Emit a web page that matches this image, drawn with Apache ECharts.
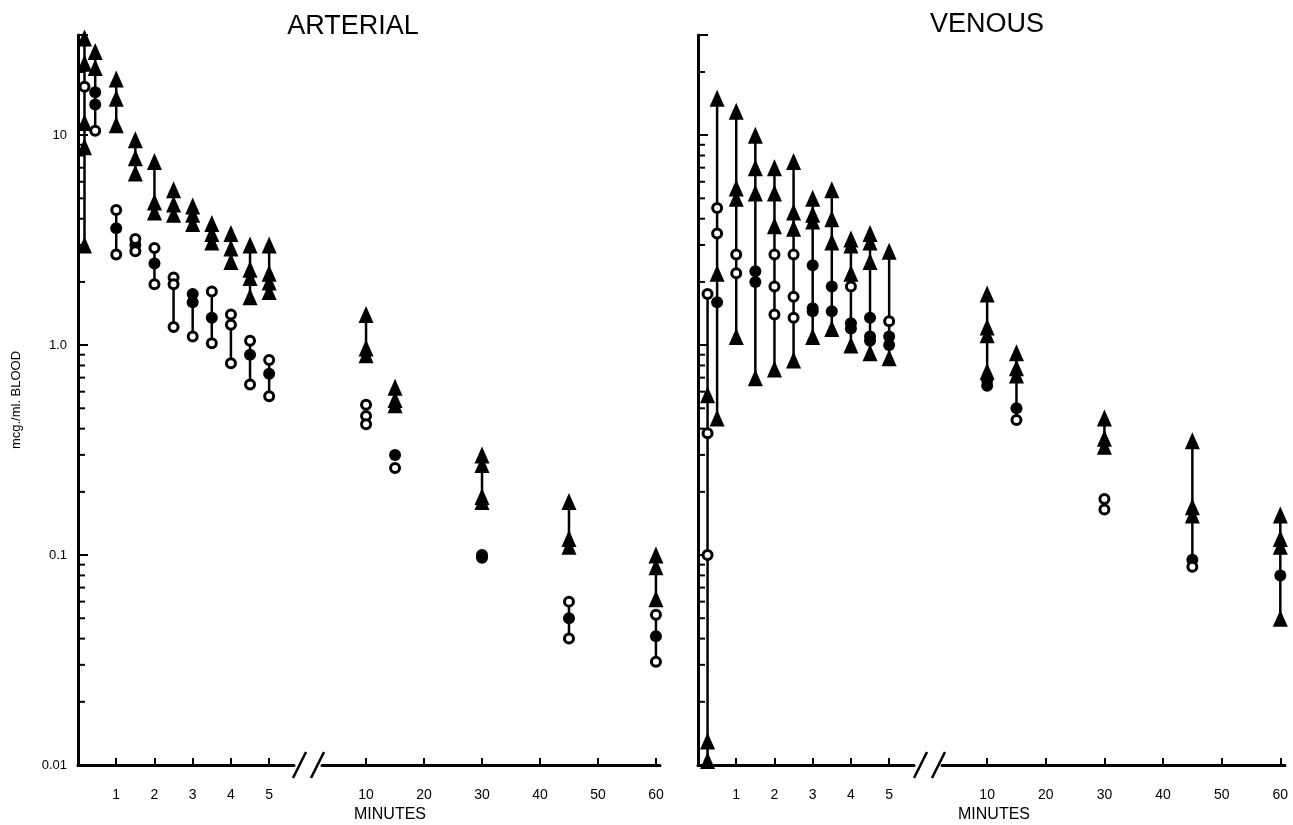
<!DOCTYPE html>
<html>
<head>
<meta charset="utf-8">
<title>Arterial and venous blood levels</title>
<script src="https://cdn.jsdelivr.net/npm/echarts@6/dist/echarts.min.js"></script>
<style>
    html, body { margin: 0; padding: 0; background: #fff; }
    #blood_levels { width: 1293px; height: 825px; }
</style>
</head>
<body>
<div id="blood_levels"></div>
<script>

// Tick values
var yMinorTicks = [0.02, 0.03, 0.04, 0.05, 0.06, 0.07, 0.08, 0.09,
    0.2, 0.3, 0.4, 0.5, 0.6, 0.7, 0.8, 0.9, 2, 3, 4, 5, 6, 7, 8, 9, 20, 30];
var earlyMinuteTicks = [1, 2, 3, 4, 5];
var lateMinuteTicks = [10, 20, 30, 40, 50, 60];

// ARTERIAL - [minutes, mcg/ml]
var arterialTriangles = [
    [0.17, 29], [0.17, 22], [0.17, 11.5], [0.17, 8.8], [0.17, 3.0],
    [0.45, 25], [0.45, 21],
    [1, 18.5], [1, 15], [1, 11.2],
    [1.5, 9.5], [1.5, 7.8], [1.5, 6.6],
    [2, 7.5], [2, 4.8], [2, 4.3],
    [2.5, 5.5], [2.5, 4.7], [2.5, 4.2],
    [3, 4.6], [3, 4.2], [3, 3.8],
    [3.5, 3.8], [3.5, 3.4], [3.5, 3.1],
    [4, 3.4], [4, 2.9], [4, 2.5],
    [4.5, 3.0], [4.5, 2.3], [4.5, 2.1], [4.5, 1.7],
    [5, 3.0], [5, 2.2], [5, 2.0], [5, 1.8],
    [10, 1.4], [10, 0.97], [10, 0.9],
    [15, 0.63], [15, 0.55], [15, 0.52],
    [30, 0.3], [30, 0.27], [30, 0.19], [30, 0.18],
    [45, 0.18], [45, 0.12], [45, 0.11],
    [60, 0.1], [60, 0.088], [60, 0.062]
];
var arterialOpen = [
    [0.17, 17], [0.45, 10.5],
    [1, 4.4], [1, 2.7],
    [1.5, 3.2], [1.5, 2.8],
    [2, 2.9], [2, 1.95],
    [2.5, 2.1], [2.5, 1.95], [2.5, 1.22],
    [3, 1.1],
    [3.5, 1.8], [3.5, 1.02],
    [4, 1.4], [4, 1.25], [4, 0.82],
    [4.5, 1.05], [4.5, 0.65],
    [5, 0.85], [5, 0.57],
    [10, 0.52], [10, 0.46], [10, 0.42],
    [15, 0.26],
    [45, 0.06], [45, 0.04],
    [60, 0.052], [60, 0.031]
];
var arterialFilled = [
    [0.45, 16], [0.45, 14],
    [1, 3.6], [1.5, 3.0], [2, 2.45],
    [3, 1.75], [3, 1.6], [3.5, 1.35],
    [4.5, 0.9], [5, 0.73],
    [15, 0.3], [30, 0.1], [30, 0.097],
    [45, 0.05], [60, 0.041]
];
// [minutes, low, high]
var arterialRanges = [
    [0.17, 3.0, 29], [0.45, 10.5, 25],
    [1, 11.2, 18.5], [1, 2.7, 4.4],
    [1.5, 6.6, 9.5], [1.5, 2.8, 3.2],
    [2, 4.3, 7.5], [2, 1.95, 2.9],
    [2.5, 4.2, 5.5], [2.5, 1.22, 2.1],
    [3, 3.8, 4.6], [3, 1.1, 1.75],
    [3.5, 3.1, 3.8], [3.5, 1.02, 1.8],
    [4, 2.5, 3.4], [4, 0.82, 1.4],
    [4.5, 1.7, 3.0], [4.5, 0.65, 1.05],
    [5, 1.8, 3.0], [5, 0.57, 0.85],
    [10, 0.9, 1.4], [15, 0.52, 0.63], [30, 0.18, 0.3],
    [45, 0.11, 0.18], [45, 0.04, 0.06],
    [60, 0.062, 0.1], [60, 0.031, 0.052]
];

// VENOUS - [minutes, mcg/ml]
var venousTriangles = [
    [0.25, 0.58], [0.25, 0.013], [0.25, 0.0105],
    [0.5, 15], [0.5, 2.2], [0.5, 0.45],
    [1, 13], [1, 5.6], [1, 5.0], [1, 1.1],
    [1.5, 10], [1.5, 7.0], [1.5, 5.3], [1.5, 0.7],
    [2, 7.0], [2, 5.3], [2, 3.7], [2, 0.77],
    [2.5, 7.5], [2.5, 4.3], [2.5, 3.6], [2.5, 0.85],
    [3, 5.0], [3, 4.2], [3, 3.9], [3, 1.1],
    [3.5, 5.5], [3.5, 4.0], [3.5, 3.1], [3.5, 1.2],
    [4, 3.2], [4, 3.0], [4, 2.2], [4, 1.0],
    [4.5, 3.4], [4.5, 3.1], [4.5, 2.5], [4.5, 0.92],
    [5, 2.8], [5, 0.87],
    [10, 1.75], [10, 1.22], [10, 1.12], [10, 0.75],
    [15, 0.92], [15, 0.78], [15, 0.72],
    [30, 0.45], [30, 0.36], [30, 0.33],
    [45, 0.35], [45, 0.17], [45, 0.155],
    [60, 0.155], [60, 0.12], [60, 0.11], [60, 0.05]
];
var venousOpen = [
    [0.25, 1.75], [0.25, 0.38], [0.25, 0.1],
    [0.5, 4.5], [0.5, 3.4],
    [1, 2.7], [1, 2.2],
    [2, 2.7], [2, 1.9], [2, 1.4],
    [2.5, 2.7], [2.5, 1.7], [2.5, 1.35],
    [4, 1.9], [5, 1.3],
    [15, 0.44], [30, 0.185], [30, 0.165], [45, 0.088]
];
var venousFilled = [
    [0.5, 1.6],
    [1.5, 2.25], [1.5, 2.0],
    [3, 2.4], [3, 1.5], [3, 1.45],
    [3.5, 1.9], [3.5, 1.45],
    [4, 1.27], [4, 1.2],
    [4.5, 1.35], [4.5, 1.1], [4.5, 1.05],
    [5, 1.1], [5, 1.0],
    [10, 0.68], [10, 0.64], [15, 0.5], [45, 0.095], [60, 0.08]
];
var venousRanges = [
    [0.25, 0.0105, 1.75], [0.5, 0.45, 15], [1, 1.1, 13], [1.5, 0.7, 10],
    [2, 0.77, 7.0], [2.5, 0.85, 7.5], [3, 1.1, 5.0], [3.5, 1.2, 5.5],
    [4, 1.0, 3.2], [4.5, 0.92, 3.4], [5, 0.87, 2.8],
    [10, 0.64, 1.75], [15, 0.44, 0.92],
    [30, 0.33, 0.45], [30, 0.165, 0.185],
    [45, 0.088, 0.35], [60, 0.05, 0.155]
];


var _bloodLevelsChart = function () {
    if (typeof echarts == 'undefined') {
        console.warn('Warning - echarts.min.js is not loaded.');
        return;
    }

    var chart_element = document.getElementById('blood_levels');
    var chart = echarts.init(chart_element);

    var fontFamily = '"Liberation Sans", Arial, sans-serif';

    // grids: 0 arterial early, 1 arterial late, 2 venous early, 3 venous late
    var panels = [
        { early: 0, late: 1, triangles: arterialTriangles, open: arterialOpen, filled: arterialFilled, ranges: arterialRanges },
        { early: 2, late: 3, triangles: venousTriangles, open: venousOpen, filled: venousFilled, ranges: venousRanges }
    ];

    // Split a panel's points into the two parts of the broken time axis
    var part = function (data, late) {
        return data.filter(function (d) {
            return late ? d[0] >= 8 : d[0] < 8;
        });
    };

    var logLabel = function (value) {
        var e = Math.round(Math.log10(value) * 1000) / 1000;
        if (e === -2) return '0.01';
        if (e === -1) return '0.1';
        if (e === 0) return '1.0';
        if (e === 1) return '10';
        return '';
    };

    //
    // Axes
    //

    var xAxes = [];
    var yAxes = [];
    [0, 1, 2, 3].forEach(function (g) {
        var late = g % 2 === 1;
        xAxes.push({
            gridIndex: g,
            type: 'value',
            min: late ? (g === 1 ? 2.4 : 2.3) : 0,
            max: late ? (g === 1 ? 60.7 : 60.8) : 5.65,
            splitLine: { show: false },
            axisLine: { lineStyle: { color: '#000', width: 3 } },
            axisTick: {
                inside: true,
                length: 7,
                customValues: late ? lateMinuteTicks : earlyMinuteTicks,
                lineStyle: { color: '#000', width: 2 }
            },
            axisLabel: {
                customValues: late ? lateMinuteTicks : earlyMinuteTicks,
                margin: 23,
                color: '#000',
                fontSize: 14,
                fontFamily: fontFamily
            }
        });
        yAxes.push({
            gridIndex: g,
            type: 'log',
            logBase: 10,
            min: 0.01,
            max: 30,
            show: !late,
            name: g === 0 ? 'mcg./ml. BLOOD' : '',
            nameLocation: 'middle',
            nameGap: 55,
            nameRotate: 90,
            nameTextStyle: { color: '#000', fontSize: 13, fontFamily: fontFamily },
            splitLine: { show: false },
            axisLine: { show: !late, lineStyle: { color: '#000', width: 3 } },
            axisTick: {
                show: !late,
                inside: true,
                length: 10,
                lineStyle: { color: '#000', width: 2 }
            },
            axisLabel: {
                show: g === 0,
                margin: 11,
                color: '#000',
                fontSize: 13,
                fontFamily: fontFamily,
                formatter: logLabel
            }
        });
    });

    //
    // Series
    //

    var series = [];
    panels.forEach(function (p) {
        [false, true].forEach(function (late) {
            var g = late ? p.late : p.early;

            // vertical lines joining the values at one time
            series.push({
                type: 'custom',
                xAxisIndex: g,
                yAxisIndex: g,
                clip: false,
                data: part(p.ranges, late),
                encode: { x: 0, y: [1, 2] },
                renderItem: function (params, api) {
                    var lo = api.coord([api.value(0), api.value(1)]);
                    var hi = api.coord([api.value(0), api.value(2)]);
                    return {
                        type: 'line',
                        shape: { x1: lo[0], y1: lo[1], x2: hi[0], y2: hi[1] },
                        style: { stroke: '#000', lineWidth: 2.5 }
                    };
                },
                z: 2
            });

            series.push({
                type: 'scatter',
                xAxisIndex: g,
                yAxisIndex: g,
                clip: false,
                symbol: 'triangle',
                symbolSize: [15, 17],
                itemStyle: { color: '#000', opacity: 1 },
                data: part(p.triangles, late),
                z: 3
            });
            series.push({
                type: 'scatter',
                xAxisIndex: g,
                yAxisIndex: g,
                clip: false,
                symbol: 'circle',
                symbolSize: 12,
                itemStyle: { color: '#000', opacity: 1 },
                data: part(p.filled, late),
                z: 4
            });
            series.push({
                type: 'scatter',
                xAxisIndex: g,
                yAxisIndex: g,
                clip: false,
                symbol: 'circle',
                symbolSize: 9,
                itemStyle: { color: '#fff', borderColor: '#000', borderWidth: 3, opacity: 1 },
                data: part(p.open, late),
                z: 5
            });
        });

        // minor log ticks on the vertical axis
        series.push({
            type: 'scatter',
            xAxisIndex: p.early,
            yAxisIndex: p.early,
            clip: false,
            silent: true,
            symbol: 'rect',
            symbolSize: [7, 2],
            symbolOffset: [3.5, 0],
            itemStyle: { color: '#000', opacity: 1 },
            data: yMinorTicks.map(function (v) { return [0, v]; }),
            z: 6
        });
    });

    //
    // Break marks and texts
    //

    var breakMark = function (x) {
        return {
            type: 'line',
            shape: { x1: x, y1: 778, x2: x + 13, y2: 752 },
            style: { stroke: '#000', lineWidth: 2.5 }
        };
    };
    var text = function (str, x, y, size) {
        return {
            type: 'text',
            x: x,
            y: y,
            style: {
                text: str,
                fill: '#000',
                font: size + 'px ' + fontFamily,
                align: 'center',
                verticalAlign: 'middle'
            }
        };
    };

    chart.setOption({
        animation: false,
        backgroundColor: '#fff',
        grid: [
            { left: 78, width: 216, top: 35, height: 730 },
            { left: 322, width: 338, top: 35, height: 730 },
            { left: 698, width: 216, top: 35, height: 730 },
            { left: 942, width: 343, top: 35, height: 730 }
        ],
        xAxis: xAxes,
        yAxis: yAxes,
        series: series,
        graphic: [
            breakMark(293), breakMark(311),
            breakMark(914), breakMark(932),
            text('ARTERIAL', 353, 27, 27),
            text('VENOUS', 987, 25, 27),
            text('MINUTES', 390, 815, 16),
            text('MINUTES', 994, 815, 16)
        ]
    });
};

_bloodLevelsChart();
</script>
</body>
</html>
